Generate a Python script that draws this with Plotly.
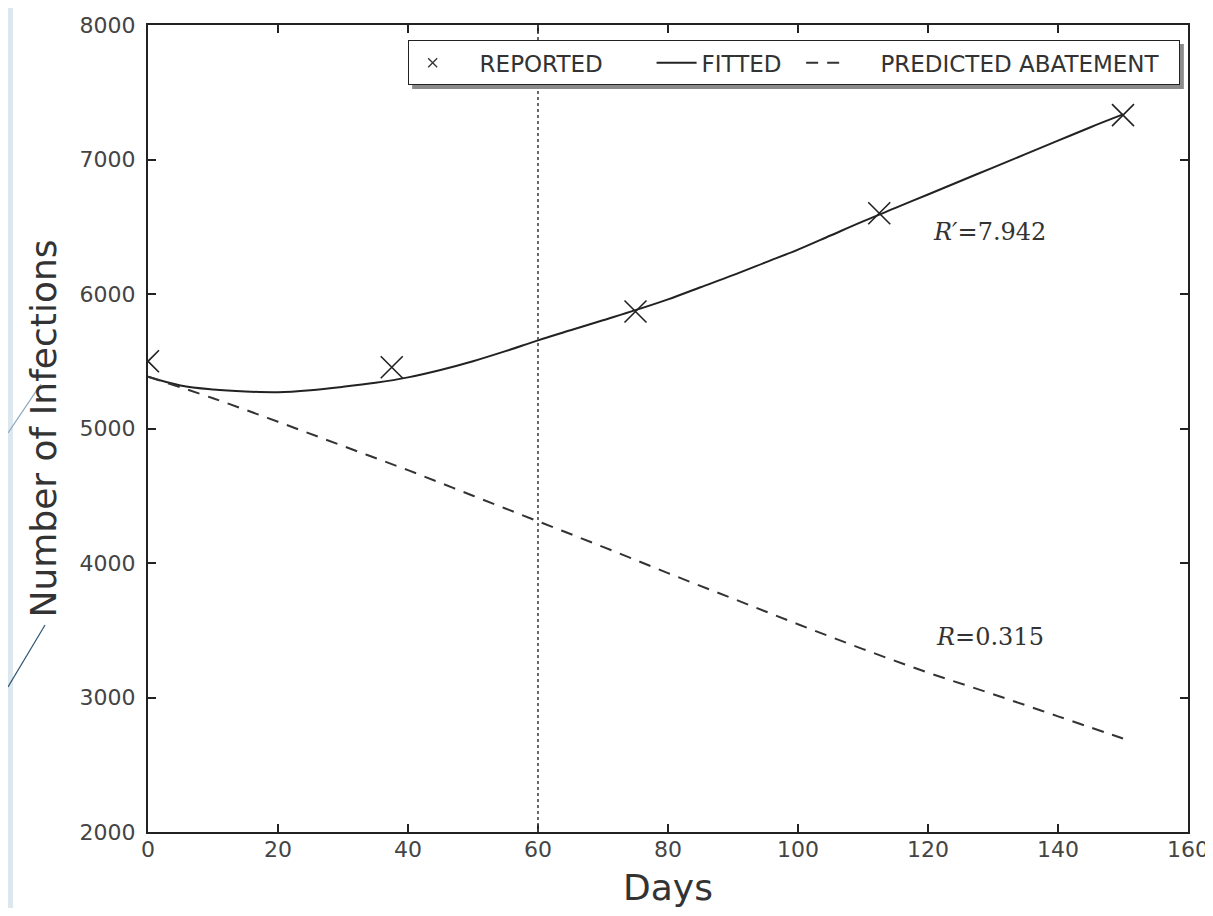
import plotly.graph_objects as go

# ---- data ----
reported_days = [0, 37.5, 75, 112.5, 150]
reported_infections = [5500, 5455, 5870, 6600, 7330]

fit_days = [0, 5, 10, 15, 20, 25, 30, 35, 40, 45, 50, 55, 60, 65, 70, 75, 80, 85, 90,
            95, 100, 105, 110, 115, 120, 125, 130, 135, 140, 145, 150]
fitted_infections = [5385, 5320, 5290, 5275, 5270, 5285, 5310, 5340, 5380, 5435, 5500,
                     5575, 5655, 5730, 5805, 5880, 5960, 6050, 6140, 6235, 6330, 6435,
                     6540, 6640, 6740, 6840, 6940, 7040, 7140, 7240, 7335]

pred_days = [0, 10, 20, 30, 40, 50, 60, 70, 80, 90, 100, 110, 120, 130, 140, 150]
predicted_infections = [5385, 5225, 5050, 4870, 4690, 4500, 4310, 4120, 3925, 3735,
                        3545, 3360, 3185, 3025, 2860, 2695]

cutoff_day = 60

label_days = [129.5, 129.5]
label_values = [6460, 3450]
label_texts = ["<i>R′</i>=7.942", "<i>R</i>=0.315"]

legend_names = ["REPORTED", "FITTED", "PREDICTED ABATEMENT"]

x_ticks = [0, 20, 40, 60, 80, 100, 120, 140, 160]
y_ticks = [2000, 3000, 4000, 5000, 6000, 7000, 8000]

NB = "\u00a0"

fig = go.Figure()

# reported points (legend shown through a small-marker legend entry)
fig.add_trace(go.Scatter(
    x=reported_days, y=reported_infections, mode="markers", name=legend_names[0],
    legendgroup="rep", showlegend=False,
    marker=dict(symbol="x-thin-open", size=22, color="#222",
                line=dict(width=1.6, color="#222")),
    cliponaxis=True,
))
fig.add_trace(go.Scatter(
    x=[None], y=[None], mode="markers", name=NB * 3 + legend_names[0] + NB * 6,
    legendgroup="rep",
    marker=dict(symbol="x-thin-open", size=9, color="#333",
                line=dict(width=1.3, color="#333")),
))
fig.add_trace(go.Scatter(
    x=fit_days, y=fitted_infections, mode="lines", name=legend_names[1] + NB * 2,
    line=dict(color="#222", width=2, shape="spline"),
))
fig.add_trace(go.Scatter(
    x=pred_days, y=predicted_infections, mode="lines",
    name=NB * 4 + legend_names[2] + NB * 2,
    line=dict(color="#333", width=2, dash="12px,9px", shape="spline"),
))

fig.add_shape(type="line", xref="x", yref="paper", x0=cutoff_day, x1=cutoff_day,
              y0=0, y1=1, line=dict(color="#444", width=1.6, dash="dot"))

for dx, dy, t in zip(label_days, label_values, label_texts):
    fig.add_annotation(x=dx, y=dy, text=t, showarrow=False,
                       font=dict(family="DejaVu Serif, Liberation Serif, serif",
                                 size=24, color="#333"))

# decorative slide background pieces on the left edge
fig.add_shape(type="rect", xref="paper", yref="paper", x0=-0.1346, x1=-0.1298,
              y0=-0.11, y1=1.04, fillcolor="#dde7ee", line=dict(width=0), layer="below")
fig.add_shape(type="line", xref="paper", yref="paper", x0=-0.1346, y0=0.4944,
              x1=-0.103, y1=0.555, line=dict(color="#8aa6b8", width=1.2))
fig.add_shape(type="line", xref="paper", yref="paper", x0=-0.1346, y0=0.1797,
              x1=-0.099, y1=0.2565, line=dict(color="#2e5573", width=1.2))

# legend shadow
fig.add_shape(type="rect", xref="paper", yref="paper", x0=0.254, x1=0.996,
              y0=0.9207, y1=0.9765, fillcolor="#8a8a8a", line=dict(width=0), layer="above")

axis_common = dict(
    showline=True, linecolor="#222", linewidth=2, mirror="ticks",
    ticks="inside", ticklen=8, tickwidth=1.5, tickcolor="#222",
    showgrid=False, zeroline=False, ticklabeloverflow="allow",
    tickfont=dict(family="DejaVu Sans, sans-serif", size=22, color="#444"),
)

fig.update_xaxes(range=[0, 160], tickvals=x_ticks, ticktext=[str(v) for v in x_ticks],
                 ticklabelstandoff=-3,
                 title=dict(text="Days", standoff=27,
                            font=dict(family="DejaVu Sans, sans-serif", size=36, color="#333")),
                 **axis_common)
fig.update_yaxes(range=[2000, 8000], tickvals=y_ticks, ticktext=[str(v) for v in y_ticks],
                 ticklabelstandoff=6,
                 title=dict(text="Number of Infections", standoff=12,
                            font=dict(family="DejaVu Sans, sans-serif", size=36, color="#333")),
                 **axis_common)

fig.update_layout(
    width=1205, height=900,
    margin=dict(l=140, r=25, t=17, b=76, autoexpand=False),
    paper_bgcolor="white", plot_bgcolor="white",
    showlegend=True,
    legend=dict(orientation="h", x=0.992, xanchor="right", y=0.981, yanchor="top",
                bgcolor="white", bordercolor="#222", borderwidth=1,
                font=dict(family="DejaVu Sans, sans-serif", size=23, color="#333"),
                itemwidth=40, entrywidth=0, tracegroupgap=0),
)

fig.write_html("out.html")
